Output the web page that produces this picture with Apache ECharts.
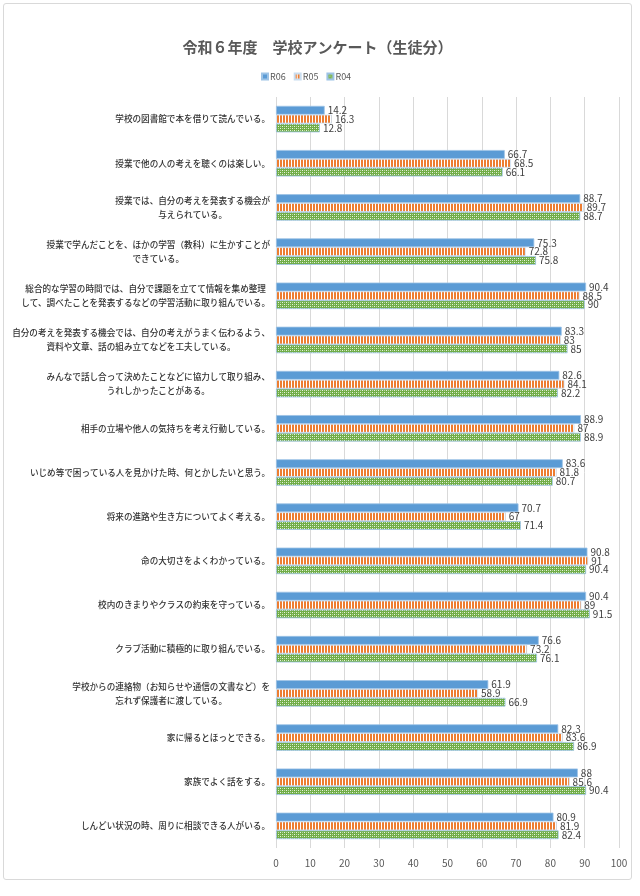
<!DOCTYPE html>
<html><head><meta charset="utf-8">
<script src="https://cdn.jsdelivr.net/npm/echarts@6/dist/echarts.min.js"></script>
<style>
html,body{margin:0;padding:0;background:#fff;}
#box{position:absolute;left:3px;top:3px;width:629px;height:877px;border:1px solid #D9D9D9;border-radius:3px;box-sizing:border-box;}
#chart{width:100%;height:100%;}
</style></head>
<body><div id="box"><div id="chart"></div></div>
<script>
const categories = [
  "学校の図書館で本を借りて読んでいる。",
  "授業で他の人の考えを聴くのは楽しい。",
  "授業では、自分の考えを発表する機会が\n与えられている。",
  "授業で学んだことを、ほかの学習（教科）に生かすことが\nできている。",
  "総合的な学習の時間では、自分で課題を立てて情報を集め整理\nして、調べたことを発表するなどの学習活動に取り組んでいる。",
  "自分の考えを発表する機会では、自分の考えがうまく伝わるよう、\n資料や文章、話の組み立てなどを工夫している。",
  "みんなで話し合って決めたことなどに協力して取り組み、\nうれしかったことがある。",
  "相手の立場や他人の気持ちを考え行動している。",
  "いじめ等で困っている人を見かけた時、何とかしたいと思う。",
  "将来の進路や生き方についてよく考える。",
  "命の大切さをよくわかっている。",
  "校内のきまりやクラスの約束を守っている。",
  "クラブ活動に積極的に取り組んでいる。",
  "学校からの連絡物（お知らせや通信の文書など）を\n忘れず保護者に渡している。",
  "家に帰るとほっとできる。",
  "家族でよく話をする。",
  "しんどい状況の時、周りに相談できる人がいる。"
];
const seriesNames = ["R06", "R05", "R04"];
const r06 = [14.2, 66.7, 88.7, 75.3, 90.4, 83.3, 82.6, 88.9, 83.6, 70.7, 90.8, 90.4, 76.6, 61.9, 82.3, 88, 80.9];
const r05 = [16.3, 68.5, 89.7, 72.8, 88.5, 83, 84.1, 87, 81.8, 67, 91, 89, 73.2, 58.9, 83.6, 85.6, 81.9];
const r04 = [12.8, 66.1, 88.7, 75.8, 90, 85, 82.2, 88.9, 80.7, 71.4, 90.4, 91.5, 76.1, 66.9, 86.9, 90.4, 82.4];
const xTicks = [0, 10, 20, 30, 40, 50, 60, 70, 80, 90, 100];

function stripePattern(){
  const c = document.createElement('canvas'); c.width = 3; c.height = 3;
  const g = c.getContext('2d');
  g.fillStyle = '#FFFFFF'; g.fillRect(0,0,3,3);
  g.fillStyle = '#ED7D31'; g.fillRect(0,0,2,3);
  return c;
}
function checkPattern(){
  const c = document.createElement('canvas'); c.width = 4; c.height = 4;
  const g = c.getContext('2d');
  g.fillStyle = '#70AD47'; g.fillRect(0,0,4,4);
  g.fillStyle = '#E8F2E0';
  g.fillRect(0,0,1,1); g.fillRect(2,2,1,1);
  g.fillStyle = '#B5D69E';
  g.fillRect(2,0,1,1); g.fillRect(0,2,1,1);
  return c;
}
const stripe = stripePattern(), check = checkPattern();

const chart = echarts.init(document.getElementById('chart'));
const labelFont = "'Liberation Sans Narrow','Noto Sans CJK JP',sans-serif";
const catFont = "'Noto Sans CJK JP',sans-serif";
const lbl = {show: true, position: 'right', distance: 3, fontSize: 10, color: '#404040', fontFamily: labelFont};
chart.setOption({
  animation: false,
  title: {
    text: '令和６年度　学校アンケート（生徒分）', left: 'center', top: 31,
    textStyle: {fontSize: 15, fontWeight: 'bold', color: '#595959', fontFamily: catFont}
  },
  legend: {
    data: seriesNames, top: 63, left: 252, icon: 'rect', itemWidth: 6, itemHeight: 6, itemGap: 8,
    textStyle: {fontSize: 9, color: '#595959', fontFamily: labelFont, padding: [0,0,0,-3]}
  },
  grid: {left: 272, right: 12, top: 93, bottom: 31, containLabel: false, outerBoundsMode: 'none'},
  xAxis: {
    type: 'value', min: 0, max: 100, interval: 10,
    axisLine: {show: false}, axisTick: {show: false},
    splitLine: {lineStyle: {color: '#D9D9D9', width: 1}},
    axisLabel: {fontSize: 10, color: '#595959', margin: 10, fontFamily: labelFont,
      formatter: v => xTicks.includes(v) ? String(v) : ''}
  },
  yAxis: {
    type: 'category', data: categories, inverse: true,
    axisLine: {show: false}, axisTick: {show: false},
    axisLabel: {
      margin: 6, fontSize: 8.6, color: '#333333', lineHeight: 14,
      fontFamily: catFont,
      formatter: v => v.split('\n').map(s => '{c|' + s + '}').join('\n'),
      rich: {c: {align: 'center', fontSize: 8.6, lineHeight: 14, color: '#333333', fontWeight: 500, fontFamily: catFont}}
    }
  },
  series: [
    {name: 'R06', type: 'bar', data: r06, barGap: '0%', barCategoryGap: '40%',
     itemStyle: {color: '#5B9BD5', borderColor: '#9DC3E6', borderWidth: 0.8}, label: lbl},
    {name: 'R05', type: 'bar', data: r05, barGap: '0%', barCategoryGap: '40%',
     itemStyle: {color: {image: stripe, repeat: 'repeat'}, borderColor: '#C9DDF0', borderWidth: 0.8}, label: lbl},
    {name: 'R04', type: 'bar', data: r04, barGap: '0%', barCategoryGap: '40%',
     itemStyle: {color: {image: check, repeat: 'repeat'}, borderColor: '#9DC3E6', borderWidth: 0.8}, label: lbl}
  ]
});
</script></body></html>
